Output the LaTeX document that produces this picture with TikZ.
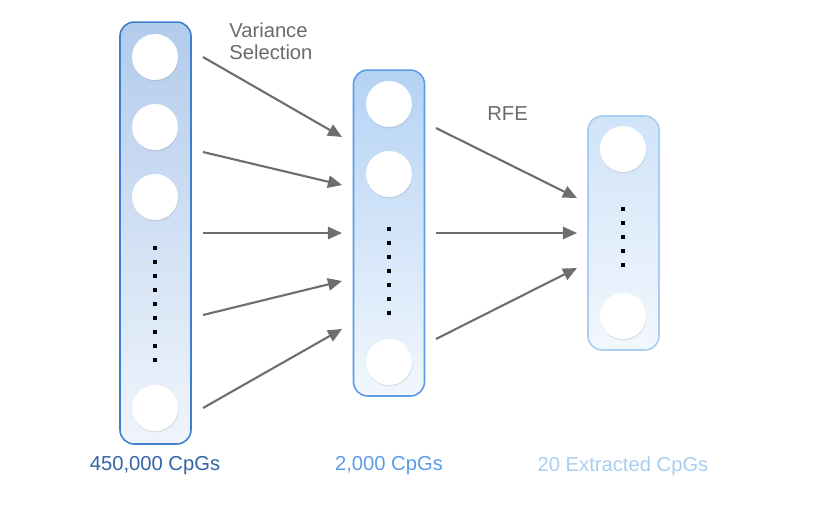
\documentclass[tikz,border=0pt]{standalone}
\usepackage{fontspec}
\setmainfont{Liberation Sans}
\usetikzlibrary{arrows.meta,shadows}

\definecolor{gridA}{HTML}{3F7FD0}
\definecolor{gridB}{HTML}{5A9CE8}
\definecolor{gridC}{HTML}{A9CDF3}
\definecolor{arrowgray}{HTML}{6E6E6E}
\definecolor{labelgray}{HTML}{6A6A6A}

\tikzset{
    layer/.style={draw, line width=0.9pt, rounded corners=8pt, minimum width=1.42cm, inner sep=0pt},
    unit/.style={circle, fill=white, minimum size=0.92cm, inner sep=0pt,
        drop shadow={shadow xshift=0.3pt, shadow yshift=-0.8pt, opacity=0.18}},
    dot/.style={fill=black, minimum size=2.6pt, inner sep=0pt},
    flow/.style={draw=arrowgray, line width=1.2pt, -{Triangle[length=8pt,width=7pt]}},
    caption/.style={font=\fontsize{11.5}{13}\selectfont}
}

\begin{document}
\begin{tikzpicture}[x=0.02cm, y=-0.02cm]
    \useasboundingbox (0,0) rectangle (833,512);
    % Layers
        \node[layer, draw=gridA, top color=gridA!40!white, bottom color=gridA!8!white,
            minimum height=8.44cm] (all) at (155.5,233) {};
        \node[layer, draw=gridB, top color=gridB!45!white, bottom color=gridB!8!white,
            minimum height=6.52cm] (var) at (389,233) {};
        \node[layer, draw=gridC, top color=gridC!55!white, bottom color=gridC!15!white,
            minimum height=4.68cm] (rfe) at (623.5,233) {};
    % Units
        \node[unit] (all1) at (155,57) {};
        \node[unit] (all2) at (155,127) {};
        \node[unit] (all3) at (155,197) {};
        \node[unit] (all4) at (155,408) {};
        \foreach \n in {0,...,8}{
            \node[dot] (alldot\n) at (155,248+\n*14) {};
        }
        \node[unit] (var1) at (389,104) {};
        \node[unit] (var2) at (389,174) {};
        \node[unit] (var3) at (389,362) {};
        \foreach \n in {0,...,6}{
            \node[dot] (vardot\n) at (389,229+\n*14) {};
        }
        \node[unit] (rfe1) at (623,149) {};
        \node[unit] (rfe2) at (623,316) {};
        \foreach \n in {0,...,4}{
            \node[dot] (rfedot\n) at (623,209+\n*14) {};
        }
    % Arrows
        \coordinate (a1) at (203,57);   \coordinate (b1) at (342,137);
        \coordinate (a2) at (203,152);  \coordinate (b2) at (342,185);
        \coordinate (a3) at (203,233);  \coordinate (b3) at (342,233);
        \coordinate (a4) at (203,315);  \coordinate (b4) at (342,281);
        \coordinate (a5) at (203,408);  \coordinate (b5) at (342,329);
        \foreach \n in {1,...,5}{
            \draw[flow] (a\n) -- (b\n);
        }
        \coordinate (c1) at (436,128);  \coordinate (d1) at (577,198);
        \coordinate (c2) at (436,233);  \coordinate (d2) at (577,233);
        \coordinate (c3) at (436,339);  \coordinate (d3) at (577,268);
        \foreach \n in {1,...,3}{
            \draw[flow] (c\n) -- (d\n);
        }
    % Labels
        \node[caption, text=labelgray, anchor=north west, align=left, inner sep=0pt,
            font=\fontsize{11.5}{13}\selectfont] (varlabel) at (229,22) {Variance\\Selection};
        \node[caption, text=labelgray, anchor=west, inner sep=0pt] (rfelabel) at (487,114) {RFE};
        \node[caption, text=gridA!80!black] (alllabel) at (155,466) {450,000 CpGs};
        \node[caption, text=gridB] (varcount) at (389,466) {2,000 CpGs};
        \node[caption, text=gridC] (rfecount) at (623,466) {20 Extracted CpGs};
\end{tikzpicture}
\end{document}
